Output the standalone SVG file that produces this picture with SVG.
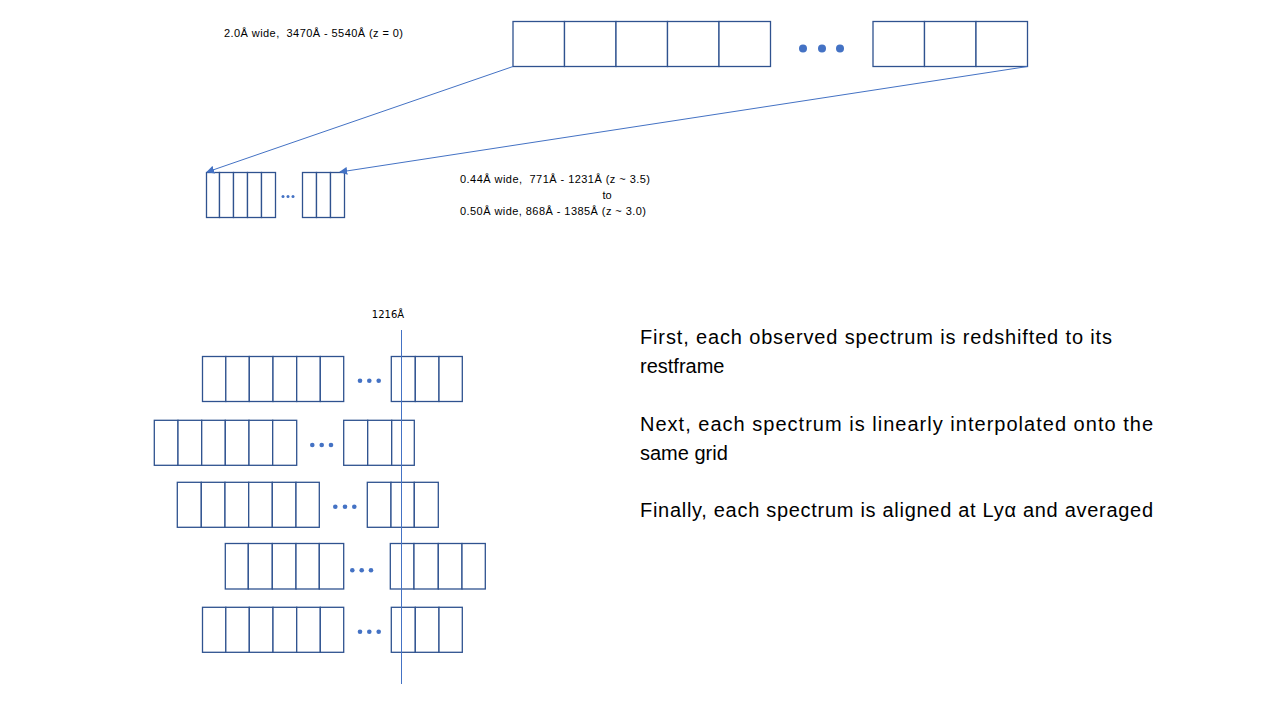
<svg xmlns="http://www.w3.org/2000/svg" width="1280" height="720" viewBox="0 0 1280 720">
<defs>
<style>
.c{fill:#fff;stroke:#2F528F;stroke-width:1.3}
.d{fill:#4472C4}
.ln{stroke:#4472C4;stroke-width:1;fill:none}
.s{font-family:"Liberation Sans",Arial,sans-serif;font-size:11px;fill:#000;white-space:pre}
.b{font-family:"Liberation Sans",Arial,sans-serif;font-size:20px;fill:#000;white-space:pre}
.m{font-family:"DejaVu Sans",sans-serif;font-size:10px;fill:#000}
</style>
<marker id="ah" viewBox="0 0 10 10" refX="9" refY="5" markerWidth="8" markerHeight="8" markerUnits="userSpaceOnUse" orient="auto">
<path d="M0,0 L10,5 L0,10 z" fill="#4472C4"/>
</marker>
</defs>
<rect width="1280" height="720" fill="#fff"/>

<g id="top-spectrum">
<rect class="c" x="513" y="21.5" width="51.5" height="45"/>
<rect class="c" x="564.5" y="21.5" width="51.5" height="45"/>
<rect class="c" x="616" y="21.5" width="51.5" height="45"/>
<rect class="c" x="667.5" y="21.5" width="51.5" height="45"/>
<rect class="c" x="719" y="21.5" width="51.5" height="45"/>
<circle class="d" cx="803" cy="48.5" r="4"/>
<circle class="d" cx="822" cy="48.5" r="4"/>
<circle class="d" cx="840" cy="48.5" r="4"/>
<rect class="c" x="873" y="21.5" width="51.5" height="45"/>
<rect class="c" x="924.5" y="21.5" width="51.5" height="45"/>
<rect class="c" x="976" y="21.5" width="51.5" height="45"/>
</g>

<g id="top-label"><text class="s" x="224" y="37" textLength="179">2.0Å wide,  3470Å - 5540Å (z = 0)</text></g>

<g id="small-spectrum">
<rect class="c" x="206.5" y="172.5" width="13" height="45"/>
<rect class="c" x="219.5" y="172.5" width="14" height="45"/>
<rect class="c" x="233.5" y="172.5" width="14" height="45"/>
<rect class="c" x="247.5" y="172.5" width="14" height="45"/>
<rect class="c" x="261.5" y="172.5" width="14" height="45"/>
<circle class="d" cx="283" cy="196.5" r="1.5"/>
<circle class="d" cx="288" cy="196.5" r="1.5"/>
<circle class="d" cx="293" cy="196.5" r="1.5"/>
<rect class="c" x="302.5" y="172.5" width="14" height="45"/>
<rect class="c" x="316.5" y="172.5" width="14" height="45"/>
<rect class="c" x="330.5" y="172.5" width="14" height="45"/>
</g>

<g id="small-label">
<text class="s" x="460" y="183" textLength="190">0.44Å wide,  771Å - 1231Å (z ~ 3.5)</text>
<text class="s" x="607" y="199" text-anchor="middle">to</text>
<text class="s" x="460" y="215" textLength="186">0.50Å wide, 868Å - 1385Å (z ~ 3.0)</text>
</g>

<g id="lya-label"><text class="m" x="388" y="318" text-anchor="middle">1216Å</text></g>

<g id="row1">
<rect class="c" x="202.5" y="356.5" width="23.3" height="45"/>
<rect class="c" x="225.8" y="356.5" width="23.5" height="45"/>
<rect class="c" x="249.3" y="356.5" width="23.7" height="45"/>
<rect class="c" x="273" y="356.5" width="23.7" height="45"/>
<rect class="c" x="296.7" y="356.5" width="23.6" height="45"/>
<rect class="c" x="320.3" y="356.5" width="23.4" height="45"/>
<circle class="d" cx="360" cy="380.7" r="2.3"/>
<circle class="d" cx="369.3" cy="380.7" r="2.3"/>
<circle class="d" cx="378.7" cy="380.7" r="2.3"/>
<rect class="c" x="391.3" y="356.5" width="24" height="45"/>
<rect class="c" x="415.3" y="356.5" width="23.7" height="45"/>
<rect class="c" x="439" y="356.5" width="23.3" height="45"/>
</g>

<g id="row2">
<rect class="c" x="154.3" y="420.3" width="23.7" height="45"/>
<rect class="c" x="178" y="420.3" width="23.7" height="45"/>
<rect class="c" x="201.7" y="420.3" width="23.6" height="45"/>
<rect class="c" x="225.3" y="420.3" width="23.7" height="45"/>
<rect class="c" x="249" y="420.3" width="23.7" height="45"/>
<rect class="c" x="272.7" y="420.3" width="24" height="45"/>
<circle class="d" cx="312.3" cy="445" r="2.3"/>
<circle class="d" cx="321.7" cy="445" r="2.3"/>
<circle class="d" cx="331" cy="445" r="2.3"/>
<rect class="c" x="343.7" y="420.3" width="24" height="45"/>
<rect class="c" x="367.7" y="420.3" width="24" height="45"/>
<rect class="c" x="391.7" y="420.3" width="22.6" height="45"/>
</g>

<g id="row3">
<rect class="c" x="177.3" y="482.3" width="24" height="45"/>
<rect class="c" x="201.3" y="482.3" width="23.7" height="45"/>
<rect class="c" x="225" y="482.3" width="23.7" height="45"/>
<rect class="c" x="248.7" y="482.3" width="23.6" height="45"/>
<rect class="c" x="272.3" y="482.3" width="23.7" height="45"/>
<rect class="c" x="296" y="482.3" width="23.3" height="45"/>
<circle class="d" cx="335.3" cy="506.7" r="2.3"/>
<circle class="d" cx="345" cy="506.7" r="2.3"/>
<circle class="d" cx="354.3" cy="506.7" r="2.3"/>
<rect class="c" x="367.3" y="482.3" width="23.7" height="45"/>
<rect class="c" x="391" y="482.3" width="23.3" height="45"/>
<rect class="c" x="414.3" y="482.3" width="24" height="45"/>
</g>

<g id="row4">
<rect class="c" x="225.3" y="543.5" width="23" height="45.5"/>
<rect class="c" x="248.3" y="543.5" width="24" height="45.5"/>
<rect class="c" x="272.3" y="543.5" width="23.7" height="45.5"/>
<rect class="c" x="296" y="543.5" width="23.3" height="45.5"/>
<rect class="c" x="319.3" y="543.5" width="24.4" height="45.5"/>
<circle class="d" cx="352.3" cy="570.3" r="2.3"/>
<circle class="d" cx="361.7" cy="570.3" r="2.3"/>
<circle class="d" cx="371" cy="570.3" r="2.3"/>
<rect class="c" x="390.3" y="543.5" width="23.7" height="45.5"/>
<rect class="c" x="414" y="543.5" width="24.3" height="45.5"/>
<rect class="c" x="438.3" y="543.5" width="23.7" height="45.5"/>
<rect class="c" x="462" y="543.5" width="23.3" height="45.5"/>
</g>

<g id="row5">
<rect class="c" x="202.5" y="607.3" width="23.3" height="45"/>
<rect class="c" x="225.8" y="607.3" width="23.5" height="45"/>
<rect class="c" x="249.3" y="607.3" width="23.7" height="45"/>
<rect class="c" x="273" y="607.3" width="23.7" height="45"/>
<rect class="c" x="296.7" y="607.3" width="23.6" height="45"/>
<rect class="c" x="320.3" y="607.3" width="23.4" height="45"/>
<circle class="d" cx="360" cy="631.7" r="2.3"/>
<circle class="d" cx="369.3" cy="631.7" r="2.3"/>
<circle class="d" cx="378.7" cy="631.7" r="2.3"/>
<rect class="c" x="391.3" y="607.3" width="24" height="45"/>
<rect class="c" x="415.3" y="607.3" width="23.7" height="45"/>
<rect class="c" x="439" y="607.3" width="23.3" height="45"/>
</g>

<g id="connectors">
<line class="ln" x1="513" y1="66.5" x2="207" y2="172" marker-end="url(#ah)"/>
<line class="ln" x1="1027.5" y1="66.5" x2="340" y2="172" marker-end="url(#ah)"/>
<line class="ln" x1="401.5" y1="330" x2="401.5" y2="684"/>
</g>

<g id="description">
<text class="b" x="640" y="344" textLength="472">First, each observed spectrum is redshifted to its</text>
<text class="b" x="640" y="373">restframe</text>
<text class="b" x="640" y="431" textLength="513">Next, each spectrum is linearly interpolated onto the</text>
<text class="b" x="640" y="460">same grid</text>
<text class="b" x="640" y="517" textLength="513">Finally, each spectrum is aligned at Lyα and averaged</text>
</g>
</svg>
